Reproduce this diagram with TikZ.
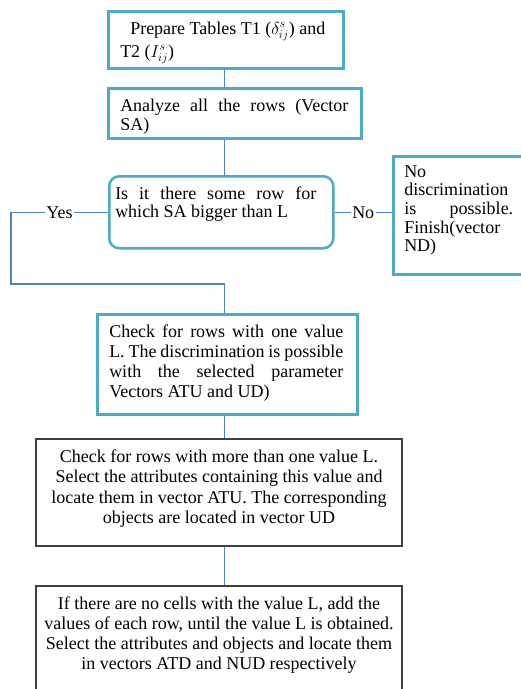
\documentclass[tikz,border=0pt]{standalone}
\usepackage{fontspec}
\setmainfont{Liberation Serif}
\definecolor{cyanb}{HTML}{4BACC6}
\definecolor{linkb}{HTML}{4F81BD}
\definecolor{darkb}{HTML}{404040}
\newcommand{\bxt}[5]{\parbox[c][#2][t]{#1}{\fontsize{18}{#4}\selectfont\parindent=0pt\parskip=0pt\vspace*{#3}#5}}
\newcommand{\jline}[3]{\strut\hspace*{#1}\makebox[#2][s]{#3}}
\newcommand{\lline}[2]{\strut\hspace*{#1}#2}
\begin{document}
\begin{tikzpicture}[x=1pt,y=-1pt,
  cbox/.style={draw=cyanb, line width=2.5pt, inner sep=0pt, anchor=north west},
  kbox/.style={draw=darkb, line width=2pt, inner sep=0pt, anchor=north west},
  link/.style={draw=linkb, line width=1.2pt},
  lab/.style={fill=white, inner sep=1.5pt, font=\fontsize{18}{20}\selectfont}]
\useasboundingbox (0,0) rectangle (521,689);
\fill[white] (0,0) rectangle (521,689);

\node[cbox] (b1) at (107,10) {\bxt{235pt}{57pt}{6.9pt}{23pt}{%
\lline{22pt}{Prepare Tables T1 ($\delta_{ij}^{s}$) and}\par
\lline{12pt}{T2 ($I_{ij}^{s}$)}}};

\node[cbox] (b2) at (107,87) {\bxt{253pt}{50pt}{9.7pt}{19pt}{%
\jline{12pt}{228pt}{Analyze all the rows (Vector}\par
\lline{12pt}{SA)}}};

\node[cbox, rounded corners=10pt] (dec) at (108,175) {\bxt{224pt}{72pt}{10.4pt}{18pt}{%
\jline{6pt}{201pt}{Is it there some row for}\par
\lline{6pt}{which SA bigger than L}}};

\node[cbox] (nob) at (392,155) {\bxt{140pt}{118pt}{8.9pt}{17.3pt}{%
\lline{11pt}{No}\par
\lline{11pt}{discrimination}\par
\jline{11pt}{109pt}{is possible.}\par
\lline{11pt}{Finish(vector}\par
\lline{11pt}{ND)}}};

\node[cbox] (b3) at (96,313) {\bxt{260pt}{100pt}{9pt}{20pt}{%
\jline{12pt}{234pt}{Check for rows with one value}\par
\jline{12pt}{234pt}{L. The discrimination is possible}\par
\jline{12pt}{234pt}{with the selected parameter}\par
\lline{12pt}{Vectors ATU and UD)}}};

\node[kbox] (b4) at (35,438) {\bxt{366pt}{107pt}{8.65pt}{20.5pt}{\centering
\strut Check for rows with more than one value L.\\
\strut Select the attributes containing this value and\\
\strut locate them in vector ATU. The corresponding\\
\strut objects are located in vector UD\par}};

\node[kbox] (b5) at (35,585) {\bxt{366pt}{115pt}{9pt}{20pt}{\centering
\strut If there are no cells with the value L, add the\\
\strut values of each row, until the value L is obtained.\\
\strut Select the attributes and objects and locate them\\
\strut in vectors ATD and NUD respectively\par}};

\coordinate (sp) at (224.5,0);
\coordinate (yl) at (11,0);
\coordinate (yb) at (0,284);

\draw[link] (sp |- b1.south) -- (sp |- b2.north);
\draw[link] (sp |- b2.south) -- (sp |- dec.north);
\draw[link] (dec.west) -- node[lab]{Yes} (yl |- dec.west) -- (yl |- yb) -- (sp |- yb) -- (sp |- b3.north);
\draw[link] (dec.east) -- node[lab]{No} (dec.east -| nob.west);
\draw[link] (sp |- b3.south) -- (sp |- b4.north);
\draw[link] (sp |- b4.south) -- (sp |- b5.north);
\end{tikzpicture}
\end{document}
